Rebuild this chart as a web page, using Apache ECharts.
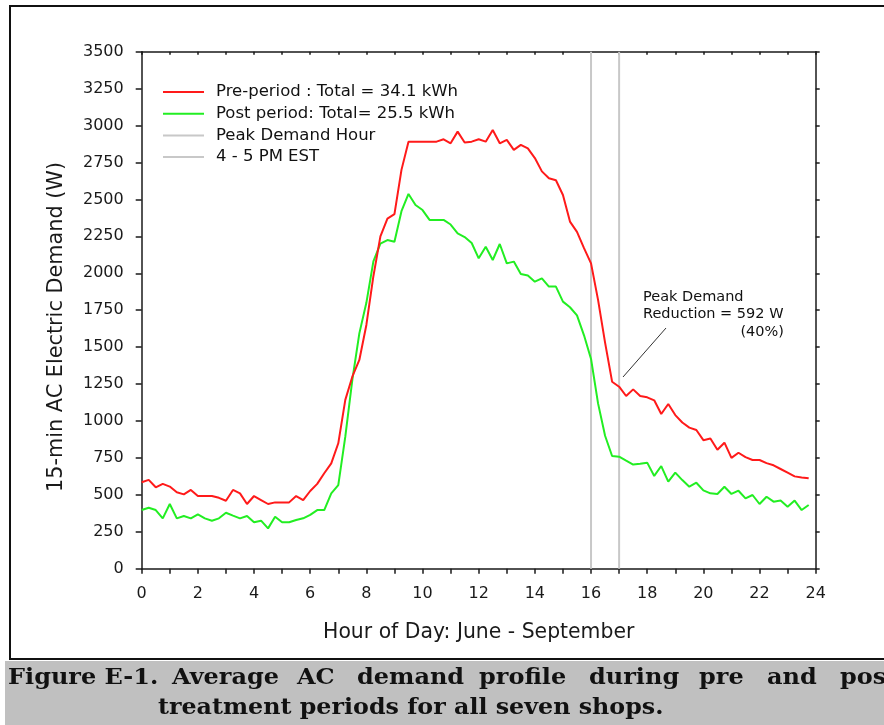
<!DOCTYPE html>
<html><head><meta charset="utf-8">
<script src="https://cdn.jsdelivr.net/npm/echarts@6/dist/echarts.min.js"></script>
<style>html,body{margin:0;padding:0;background:#fff}#c{width:884px;height:725px}</style>
</head><body><div id="c"></div>
<script>
// Hour of day (15-min samples)
const hours = [0,0.25,0.5,0.75,1,1.25,1.5,1.75,2,2.25,2.5,2.75,3,3.25,3.5,3.75,4,4.25,4.5,4.75,5,5.25,5.5,5.75,
  6,6.25,6.5,6.75,7,7.25,7.5,7.75,8,8.25,8.5,8.75,9,9.25,9.5,9.75,10,10.25,10.5,10.75,11,11.25,11.5,11.75,
  12,12.25,12.5,12.75,13,13.25,13.5,13.75,14,14.25,14.5,14.75,15,15.25,15.5,15.75,16,16.25,16.5,16.75,17,17.25,17.5,17.75,
  18,18.25,18.5,18.75,19,19.25,19.5,19.75,20,20.25,20.5,20.75,21,21.25,21.5,21.75,22,22.25,22.5,22.75,23,23.25,23.5,23.75];
// Pre-period demand (W)
const prePeriod = [585,601,551,574,556,517,503,533,492,492,492,480,460,533,510,438,492,465,438,449,449,449,492,465,
  526,574,646,713,849,1143,1300,1413,1650,1980,2250,2370,2400,2700,2891,2891,2891,2891,2891,2907,2880,2959,2885,2891,
  2907,2891,2970,2880,2903,2835,2869,2846,2780,2690,2643,2630,2530,2350,2280,2170,2067,1820,1530,1266,1232,1169,1214,1169,
  1160,1140,1047,1115,1040,990,955,939,870,882,805,853,750,785,755,736,736,715,700,675,650,625,618,612];
// Post-period demand (W)
const postPeriod = [397,413,397,341,438,341,357,341,368,341,325,341,379,359,341,357,314,325,273,352,314,314,330,341,
  364,397,397,510,566,894,1278,1593,1800,2080,2200,2225,2214,2420,2537,2462,2428,2361,2361,2361,2330,2270,2245,2205,
  2101,2180,2090,2198,2067,2079,1995,1985,1943,1966,1910,1910,1808,1770,1715,1580,1420,1119,900,763,758,731,705,710,
  718,628,695,589,650,600,555,582,530,510,506,555,506,528,476,499,438,487,454,461,420,461,397,431];
// Peak demand hour markers
const peakHourStart = 16;
const peakHourEnd = 17;
const yMin = 0, yMax = 3500, yStep = 250;
const xMin = 0, xMax = 24, xStep = 1;

const seriesNames = ['Pre-period : Total = 34.1 kWh','Post period: Total= 25.5 kWh','Peak Demand Hour','4 - 5 PM EST'];
const yTitle = '15-min AC Electric Demand (W)';
const xTitle = 'Hour of Day: June - September';
const captionLine1 = ['Figure E-1.','Average','AC','demand','profile','during','pre','and','post'];
const captionLine2 = 'treatment periods for all seven shops.';

const chart = echarts.init(document.getElementById('c'), null, {renderer:'canvas'});
const sans = 'DejaVu Sans, Verdana, sans-serif';
const axisCol = '#1a1a1a';
const grid = {left:141.7, top:51.7, right:68.3, bottom:156.3};

const capX = [8,172,297,357,479,589,699,767,840];
const capFont = 'bold 22px DejaVu Serif';
const graphic = [
  {type:'rect', z:-10, shape:{x:10, y:6, width:900, height:653}, style:{fill:'none', stroke:'#111', lineWidth:2}},
  {type:'rect', z:-10, shape:{x:5, y:661, width:900, height:70}, style:{fill:'#c0c0c0'}},
  {type:'text', x:57, y:327, rotation:Math.PI/2, style:{text:yTitle, font:'20.8px DejaVu Sans', fill:'#1a1a1a', align:'center', verticalAlign:'middle'}},
  {type:'text', left:643, top:290, style:{text:'Peak Demand', font:'14.5px DejaVu Sans', fill:'#111'}},
  {type:'text', left:643, top:307, style:{text:'Reduction = 592 W', font:'14.5px DejaVu Sans', fill:'#111'}},
  {type:'text', right:884-784, top:325, style:{text:'(40%)', font:'14.5px DejaVu Sans', fill:'#111'}},
  {type:'line', shape:{x1:666, y1:328, x2:623, y2:377}, style:{stroke:'#333', lineWidth:1}}
];
captionLine1.forEach((w,i)=>{
  graphic.push({type:'text', x:capX[i], y:667, scaleX:1.09, style:{text:w, font:capFont, fill:'#111'}});
});
graphic.push({type:'text', x:158, y:697, scaleX:1.08, style:{text:captionLine2, font:capFont, fill:'#111'}});

const option = {
  backgroundColor:'#fff',
  animation:false,
  grid: grid,
  legend: {
    orient:'vertical', left:163, top:82.5, padding:0, itemWidth:41, itemHeight:2, itemGap:2.7,
    icon:'rect',
    data: seriesNames,
    textStyle:{fontFamily:sans, fontSize:16.5, color:'#111', lineHeight:19, padding:[0,0,0,7]}
  },
  xAxis: [
    {type:'value', min:xMin, max:xMax, interval:xStep, position:'bottom',
     name:xTitle, nameLocation:'middle', nameGap:54,
     nameTextStyle:{fontFamily:sans, fontSize:20.4, color:'#1a1a1a'},
     axisLine:{show:true, onZero:false, lineStyle:{color:axisCol, width:1.5}},
     axisTick:{show:true, inside:false, length:5, lineStyle:{color:axisCol, width:1.5}},
     axisLabel:{margin:17, fontFamily:sans, fontSize:16, color:'#1a1a1a', formatter:v=> (v%2===0? String(v):'')},
     splitLine:{show:false}},
    {type:'value', min:xMin, max:xMax, interval:xStep, position:'top',
     axisLine:{show:true, onZero:false, lineStyle:{color:axisCol, width:1.5}},
     axisTick:{show:true, inside:true, length:3, lineStyle:{color:axisCol, width:1.5}},
     axisLabel:{show:false}, splitLine:{show:false}}
  ],
  yAxis: [
    {type:'value', min:yMin, max:yMax, interval:yStep, position:'left',
     axisLine:{show:true, onZero:false, lineStyle:{color:axisCol, width:1.5}},
     axisTick:{show:true, inside:false, length:6, lineStyle:{color:axisCol, width:1.5}},
     axisLabel:{margin:18, fontFamily:sans, fontSize:16, color:'#1a1a1a', formatter:v=>String(v)},
     splitLine:{show:false}},
    {type:'value', min:yMin, max:yMax, interval:yStep, position:'right',
     axisLine:{show:true, onZero:false, lineStyle:{color:axisCol, width:1.5}},
     axisTick:{show:true, inside:false, length:4, lineStyle:{color:axisCol, width:1.5}},
     axisLabel:{show:false}, splitLine:{show:false}}
  ],
  series: [
    {name:seriesNames[2], type:'line', symbol:'none', silent:true, z:1,
     data:[[peakHourStart,yMin],[peakHourStart,yMax]], lineStyle:{color:'#c8c8c8', width:2}, itemStyle:{color:'#c8c8c8'}},
    {name:seriesNames[3], type:'line', symbol:'none', silent:true, z:1,
     data:[[peakHourEnd,yMin],[peakHourEnd,yMax]], lineStyle:{color:'#c8c8c8', width:2}, itemStyle:{color:'#c8c8c8'}},
    {name:seriesNames[0], type:'line', symbol:'none', z:3,
     data: hours.map((h,i)=>[h, prePeriod[i]]), lineStyle:{color:'#ff1a1a', width:2}, itemStyle:{color:'#ff1a1a'}},
    {name:seriesNames[1], type:'line', symbol:'none', z:2,
     data: hours.map((h,i)=>[h, postPeriod[i]]), lineStyle:{color:'#22ee22', width:2}, itemStyle:{color:'#22ee22'}}
  ],
  graphic: graphic
};
chart.setOption(option);
</script>
</body></html>
